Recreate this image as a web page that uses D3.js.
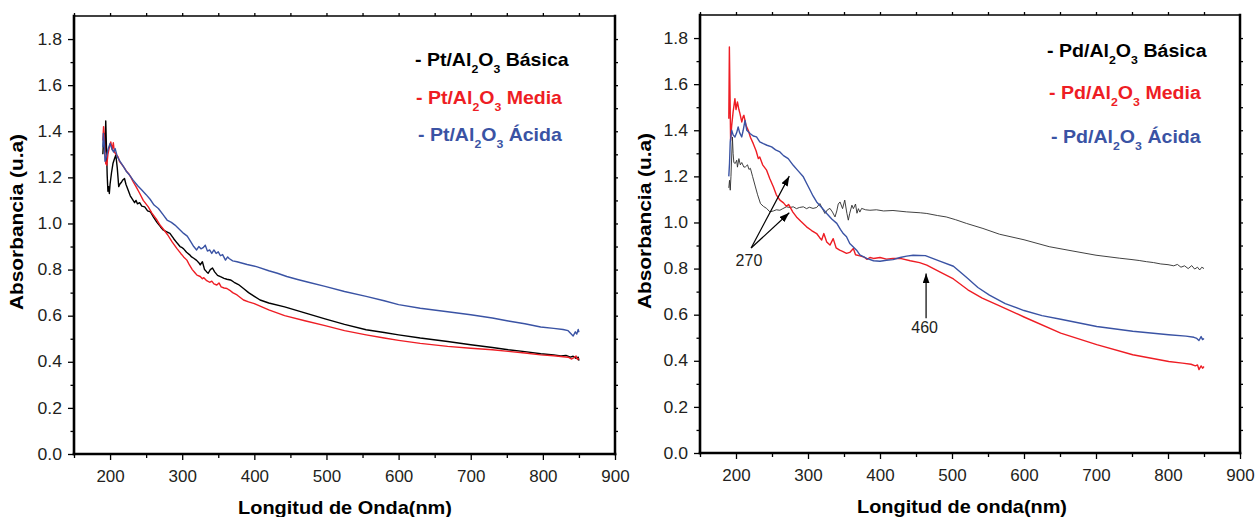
<!DOCTYPE html>
<html>
<head>
<meta charset="utf-8">
<script src="https://cdn.jsdelivr.net/npm/d3@7"></script>
<style>
  html, body { margin: 0; padding: 0; background: #fff; }
  svg { display: block; font-family: "Liberation Sans", Arial, Helvetica, sans-serif; }
</style>
</head>
<body>
<svg id="chart" width="1256" height="517"></svg>
<script>
// ---------- Data: UV-Vis absorbance spectra, [wavelength (nm), absorbance (u.a)] ----------
const ptBasica = [
  [190,1.30],[191,1.36],[192,1.39],[193,1.31],[194,1.445],[195,1.33],[196,1.21],[197,1.14],[198,1.16],[199,1.13],
  [200,1.17],[202,1.22],[204,1.26],[206,1.28],[208,1.297],[210,1.24],[212,1.16],[213.5,1.17],[216,1.18],[218,1.19],
  [220,1.195],[222,1.17],[225,1.145],[228,1.12],[230,1.11],[232,1.10],[234,1.09],[236,1.10],[238,1.085],[241,1.09],
  [244,1.075],[248,1.072],[252,1.055],[256,1.05],[260,1.029],[265,1.005],[270,0.985],[274,0.971],[278,0.965],[283,0.957],
  [288,0.935],[293,0.915],[297,0.90],[300,0.895],[302,0.89],[306,0.875],[310,0.865],[313,0.855],[316,0.849],[320,0.84],
  [323,0.83],[325,0.82],[328,0.834],[331,0.80],[334,0.79],[336,0.784],[339,0.80],[342,0.807],[345,0.79],[349,0.775],
  [353,0.769],[358,0.762],[362,0.758],[367,0.755],[372,0.745],[378,0.735],[385,0.718],[392,0.70],[400,0.684],[408,0.668],
  [420,0.655],[442,0.638],[470,0.612],[498,0.586],[525,0.562],[555,0.539],[580,0.527],[600,0.517],[630,0.503],[668,0.488],
  [700,0.474],[730,0.462],[752,0.452],[775,0.444],[797,0.435],[815,0.43],[825,0.425],[832,0.428],[838,0.42],[842,0.424],
  [846,0.415],[849,0.42],[850,0.405]
];
const ptMedia = [
  [190,1.36],[191,1.42],[192,1.38],[193,1.30],[194,1.26],[195.5,1.253],[197,1.30],[199,1.33],[201,1.354],[203,1.32],
  [204.5,1.35],[206,1.31],[209,1.297],[211,1.29],[213,1.27],[217,1.253],[220,1.24],[223,1.225],[225.5,1.217],[229,1.20],
  [232,1.181],[236,1.16],[241,1.131],[246,1.10],[253,1.072],[258,1.045],[265,1.015],[270,0.99],[274,0.975],[280,0.95],
  [286,0.92],[292.5,0.892],[298,0.87],[302,0.855],[306.5,0.841],[310,0.82],[314,0.80],[318,0.785],[320.5,0.776],[325,0.77],
  [328,0.76],[330,0.765],[334,0.752],[338,0.745],[341,0.75],[344,0.738],[348,0.733],[351,0.742],[354,0.725],[358,0.72],
  [362,0.718],[366,0.71],[370,0.70],[376,0.69],[385,0.668],[392,0.66],[400,0.652],[420,0.625],[442,0.600],[470,0.578],
  [498,0.557],[525,0.535],[555,0.517],[580,0.503],[600,0.493],[630,0.48],[668,0.467],[700,0.459],[730,0.452],[752,0.445],
  [775,0.438],[797,0.43],[815,0.426],[828,0.422],[835,0.42],[840,0.412],[843,0.418],[846,0.425],[848,0.41],[850,0.415]
];
const ptAcida = [
  [190,1.33],[190.7,1.39],[192,1.35],[193,1.27],[195,1.29],[197,1.32],[200,1.347],[203,1.32],[205,1.31],[207,1.325],
  [210,1.29],[214,1.268],[218,1.25],[223,1.224],[227,1.21],[232,1.188],[238,1.165],[244,1.145],[250,1.125],[255.5,1.105],
  [261,1.08],[267,1.065],[274,1.036],[279,1.015],[285,1.005],[290,0.993],[296,0.975],[302,0.957],[307,0.945],[312,0.92],
  [316,0.90],[320,0.885],[323,0.90],[326,0.89],[329,0.895],[332,0.906],[335,0.88],[338,0.885],[341,0.87],[344,0.885],
  [347,0.87],[350,0.877],[353,0.86],[356,0.865],[360,0.841],[363,0.855],[365,0.848],[370,0.838],[376,0.834],[390,0.822],
  [404,0.812],[420,0.795],[432,0.784],[445,0.77],[460,0.757],[475,0.745],[498,0.727],[525,0.705],[555,0.684],[580,0.665],
  [600,0.648],[630,0.632],[668,0.617],[700,0.604],[730,0.59],[752,0.577],[775,0.565],[797,0.551],[815,0.545],[828,0.54],
  [835,0.535],[838,0.525],[842,0.512],[845,0.53],[847,0.52],[849,0.54],[850,0.528]
];
const pdBasica = [
  [190,1.15],[191,1.183],[192,1.14],[193,1.20],[195,1.371],[196,1.30],[197,1.26],[199,1.256],[201,1.27],[202,1.24],
  [204,1.277],[206,1.25],[208,1.26],[211,1.24],[213,1.241],[216,1.25],[218,1.23],[220,1.235],[223,1.20],[227,1.154],
  [230,1.12],[234,1.082],[238,1.07],[242.5,1.061],[247,1.046],[252,1.05],[256,1.055],[261,1.053],[265,1.06],[270,1.068],
  [275,1.065],[279.5,1.068],[284,1.06],[288,1.065],[293.5,1.068],[298,1.06],[302,1.066],[307,1.061],[312,1.065],[316.5,1.082],
  [320,1.06],[323.5,1.039],[327,1.055],[330.5,1.061],[334,1.045],[337.5,1.024],[340,1.05],[342,1.08],[344.5,1.089],[348,1.06],
  [351,1.097],[354,1.04],[356,1.01],[358,1.04],[361,1.075],[363,1.06],[366,1.08],[368,1.04],[370,1.06],[372,1.045],
  [374.5,1.061],[380,1.055],[386,1.053],[395,1.055],[405,1.05],[418,1.052],[437,1.046],[456,1.042],[465,1.039],[480,1.03],
  [492,1.024],[505,1.012],[520,0.996],[543,0.974],[566,0.949],[600,0.925],[635,0.895],[668,0.876],[700,0.858],[733,0.845],
  [750,0.839],[760,0.835],[770,0.83],[780,0.826],[790,0.82],[800,0.817],[808,0.812],[813,0.818],[818,0.806],[823,0.812],
  [828,0.80],[833,0.813],[837,0.798],[841,0.806],[844,0.794],[847,0.806],[850,0.80]
];
const pdMedia = [
  [190,1.45],[190.8,1.761],[191.5,1.60],[192.5,1.357],[194,1.42],[196,1.48],[198.5,1.537],[200,1.49],[202,1.523],[204,1.49],
  [205.5,1.472],[208,1.436],[210,1.46],[211,1.465],[214,1.42],[217,1.40],[220,1.37],[224,1.342],[228,1.31],[231,1.277],
  [233,1.284],[237,1.25],[242.5,1.227],[247,1.19],[252,1.154],[256,1.12],[261,1.097],[266,1.085],[270,1.07],[273,1.078],
  [275,1.068],[279,1.045],[284,1.024],[290,1.005],[298,0.981],[305,0.965],[312,0.952],[316,0.935],[319,0.924],[322,0.952],
  [326,0.915],[330.5,0.902],[335,0.93],[339,0.89],[344,0.88],[348,0.875],[353.5,0.866],[358,0.87],[363,0.887],[366,0.86],
  [372,0.855],[378,0.85],[382,0.84],[386,0.848],[391,0.844],[400,0.848],[409,0.841],[418,0.844],[428,0.844],[442,0.834],
  [455,0.826],[465,0.815],[483,0.786],[502,0.755],[522,0.708],[542,0.672],[563,0.643],[600,0.590],[651,0.52],[701,0.47],
  [751,0.426],[801,0.397],[820,0.39],[832,0.385],[838,0.378],[841,0.382],[843,0.362],[846,0.378],[848,0.368],[850,0.375]
];
const pdAcida = [
  [190,1.20],[191,1.256],[192,1.35],[194,1.40],[196,1.38],[198.5,1.371],[201,1.39],[203,1.414],[205,1.39],[208,1.371],
  [210,1.40],[212.5,1.443],[215,1.40],[219.5,1.386],[224,1.375],[228.5,1.371],[233,1.35],[238,1.342],[243,1.335],[249.5,1.328],
  [255,1.315],[261,1.306],[266,1.29],[272.5,1.277],[279.5,1.248],[286,1.225],[293.5,1.198],[298,1.17],[303,1.14],[307,1.115],
  [312,1.089],[319,1.065],[326,1.039],[333,1.015],[340,0.996],[345,0.97],[349,0.952],[353.5,0.938],[358,0.909],[363,0.894],
  [367.5,0.88],[372,0.859],[381.5,0.844],[391,0.834],[400,0.832],[409,0.836],[418,0.839],[428,0.848],[437,0.854],[446,0.858],
  [463,0.856],[483,0.832],[502,0.810],[520,0.762],[536,0.718],[552,0.685],[574,0.648],[600,0.618],[625,0.596],[651,0.580],
  [701,0.549],[751,0.528],[801,0.513],[825,0.507],[836,0.502],[840,0.497],[843,0.488],[846,0.505],[848,0.492],[850,0.497]
];

// ---------- Axis ticks ----------
const xMajorTicks = [200, 300, 400, 500, 600, 700, 800, 900];
const xMinorTicks = [150, 250, 350, 450, 550, 650, 750, 850];
const yMajorTicks = [0.0, 0.2, 0.4, 0.6, 0.8, 1.0, 1.2, 1.4, 1.6, 1.8];
const yMinorTicks = [0.1, 0.3, 0.5, 0.7, 0.9, 1.1, 1.3, 1.5, 1.7];
const xDomain = [150, 900];
const yDomain = [0, 1.9];

// ---------- Labels ----------
const ptLabels = ["Pt", "Básica", "Media", "Ácida"];
const pdLabels = ["Pd", "Básica", "Media", "Ácida"];
const yTitle = "Absorbancia (u.a)";
const xTitleLeft = "Longitud de Onda(nm)";
const xTitleRight = "Longitud de onda(nm)";

// Peak annotations on the Pd panel (data units)
const peak270 = { label: "270", labelAt: [218, 0.81], from: [221, 0.889], tips: [[274, 1.201], [274, 1.042]] };
const peak460 = { label: "460", labelAt: [462, 0.519], from: [464, 0.584], tips: [[464, 0.779]] };

// ---------- Styling ----------
const RED = "#ee1d24";
const BLUE = "#3a53a4";
const TICK_TEXT = "#231f20";

const svg = d3.select("#chart");

const defs = svg.append("defs");
defs.append("marker")
  .attr("id", "arrowhead")
  .attr("markerUnits", "userSpaceOnUse")
  .attr("markerWidth", 11).attr("markerHeight", 8)
  .attr("refX", 10).attr("refY", 3.5)
  .attr("orient", "auto")
  .append("path").attr("d", "M0,0 L10,3.5 L0,7 Z").attr("fill", "#000");

function stretchTicks(sel, k) {
  sel.selectAll(".tick text").each(function () {
    const w = this.getComputedTextLength();
    if (w > 0) {
      this.setAttribute("textLength", (w * k).toFixed(2));
      this.setAttribute("lengthAdjust", "spacingAndGlyphs");
    }
  });
}

function drawPanel(cfg) {
  const x = d3.scaleLinear().domain(xDomain).range([cfg.left, cfg.right]);
  const y = d3.scaleLinear().domain(yDomain).range([cfg.bottom, cfg.top]);
  const g = svg.append("g");

  // spectra
  const line = d3.line().x(d => x(d[0])).y(d => y(d[1]));
  cfg.series.forEach(s => {
    g.append("path")
      .datum(s.data)
      .attr("d", line)
      .attr("fill", "none")
      .attr("stroke", s.color)
      .attr("stroke-width", s.width)
      .attr("stroke-linejoin", "round");
  });

  // axes
  const axisStyle = sel => {
    sel.select(".domain").remove();
    sel.selectAll(".tick line").attr("stroke", "#000").attr("stroke-width", 1.3);
    sel.selectAll(".tick text")
      .attr("fill", TICK_TEXT)
      .style("font-size", "16px")
      .style("font-family", '"Liberation Sans", Arial, sans-serif');
  };

  const bottom = g.append("g").attr("transform", `translate(0,${cfg.bottom})`)
    .call(d3.axisBottom(x).tickValues(xMajorTicks).tickSize(6).tickPadding(11).tickFormat(d3.format("d")))
    .call(axisStyle);
  g.append("g").attr("transform", `translate(0,${cfg.bottom})`)
    .call(d3.axisBottom(x).tickValues(xMinorTicks).tickSize(4).tickFormat(""))
    .call(axisStyle);

  const left = g.append("g").attr("transform", `translate(${cfg.left},0)`)
    .call(d3.axisLeft(y).tickValues(yMajorTicks).tickSize(6).tickPadding(6).tickFormat(d3.format(".1f")))
    .call(axisStyle);
  g.append("g").attr("transform", `translate(${cfg.left},0)`)
    .call(d3.axisLeft(y).tickValues(yMinorTicks).tickSize(3.5).tickFormat(""))
    .call(axisStyle);

  g.append("g").attr("transform", `translate(0,${cfg.top})`)
    .call(d3.axisTop(x).tickValues(xMajorTicks.concat(xMinorTicks).filter(v => v < 900)).tickSize(3).tickFormat(""))
    .call(axisStyle);
  g.append("g").attr("transform", `translate(${cfg.right},0)`)
    .call(d3.axisRight(y).tickValues(yMajorTicks.concat(yMinorTicks).filter(v => v > 0)).tickSize(3).tickFormat(""))
    .call(axisStyle);

  stretchTicks(bottom, 1.06);
  stretchTicks(left, 1.1);

  // frame
  const frame = g.append("g").attr("stroke", "#000").attr("fill", "none").attr("stroke-linecap", "square");
  frame.append("line").attr("x1", cfg.left).attr("x2", cfg.right).attr("y1", cfg.top).attr("y2", cfg.top).attr("stroke-width", 1.7);
  frame.append("line").attr("x1", cfg.left).attr("x2", cfg.left).attr("y1", cfg.top).attr("y2", cfg.bottom).attr("stroke-width", 2.6);
  frame.append("line").attr("x1", cfg.right).attr("x2", cfg.right).attr("y1", cfg.top).attr("y2", cfg.bottom).attr("stroke-width", 2.5);
  frame.append("line").attr("x1", cfg.left).attr("x2", cfg.right).attr("y1", cfg.bottom).attr("y2", cfg.bottom).attr("stroke-width", 2.6);

  // axis titles (bold, widened to the printed width)
  const xt = svg.append("text")
    .attr("text-anchor", "middle")
    .style("font-weight", "bold").style("font-size", "18px")
    .text(cfg.xTitle);
  const kx = cfg.xTitleWidth / xt.node().getComputedTextLength();
  xt.attr("transform", `translate(${cfg.xTitleX},${cfg.xTitleY}) scale(${kx},1)`);

  const yt = svg.append("text")
    .attr("text-anchor", "middle")
    .style("font-weight", "bold").style("font-size", "18px")
    .text(yTitle);
  const ky = cfg.yTitleLength / yt.node().getComputedTextLength();
  yt.attr("transform", `translate(${cfg.yTitleX},${cfg.yTitleY}) rotate(-90) scale(${ky},1)`);

  // legend: "- M/Al2O3 Tipo"
  const metal = cfg.labels[0];
  const colors = ["#000", RED, BLUE];
  let k = 1;
  cfg.labels.slice(1).forEach((name, i) => {
    const t = svg.append("text")
      .attr("fill", colors[i])
      .style("font-weight", "bold").style("font-size", "17.5px");
    t.append("tspan").text(`- ${metal}/Al`);
    t.append("tspan").attr("dy", 7).style("font-size", "11px").text("2");
    t.append("tspan").attr("dy", -7).text("O");
    t.append("tspan").attr("dy", 7).style("font-size", "11px").text("3");
    t.append("tspan").attr("dy", -7).text(` ${name}`);
    if (i === 0) k = cfg.legendWidth / t.node().getBBox().width;
    t.attr("transform", `translate(${cfg.legendX[i]},${cfg.legendY[i]}) scale(${k},1)`);
  });

  return { x, y, g };
}

const ptPanel = drawPanel({
  left: 74, right: 615, top: 16, bottom: 454,
  series: [
    { data: ptBasica, color: "#000", width: 1.4 },
    { data: ptMedia, color: RED, width: 1.4 },
    { data: ptAcida, color: BLUE, width: 1.4 }
  ],
  labels: ptLabels,
  legendX: [415, 416, 418], legendY: [66, 104, 141], legendWidth: 154,
  xTitle: xTitleLeft, xTitleX: 345, xTitleY: 514, xTitleWidth: 214,
  yTitleX: 23, yTitleY: 222, yTitleLength: 176
});

const pdPanel = drawPanel({
  left: 700, right: 1240, top: 15, bottom: 453,
  series: [
    { data: pdBasica, color: "#2b2b2b", width: 0.9 },
    { data: pdMedia, color: RED, width: 1.4 },
    { data: pdAcida, color: BLUE, width: 1.4 }
  ],
  labels: pdLabels,
  legendX: [1047, 1049, 1051], legendY: [57, 99, 143], legendWidth: 160,
  xTitle: xTitleRight, xTitleX: 962, xTitleY: 513, xTitleWidth: 210,
  yTitleX: 651, yTitleY: 221, yTitleLength: 176
});

// peak annotations
function annotate(panel, a) {
  const { x, y, g } = panel;
  a.tips.forEach(tip => {
    g.append("line")
      .attr("x1", x(a.from[0])).attr("y1", y(a.from[1]))
      .attr("x2", x(tip[0])).attr("y2", y(tip[1]))
      .attr("stroke", "#000").attr("stroke-width", 1.2)
      .attr("marker-end", "url(#arrowhead)");
  });
  g.append("text")
    .attr("x", x(a.labelAt[0])).attr("y", y(a.labelAt[1]))
    .attr("text-anchor", "middle")
    .attr("fill", TICK_TEXT)
    .style("font-size", "16px")
    .text(a.label);
}
annotate(pdPanel, peak270);
annotate(pdPanel, peak460);
</script>
</body>
</html>
